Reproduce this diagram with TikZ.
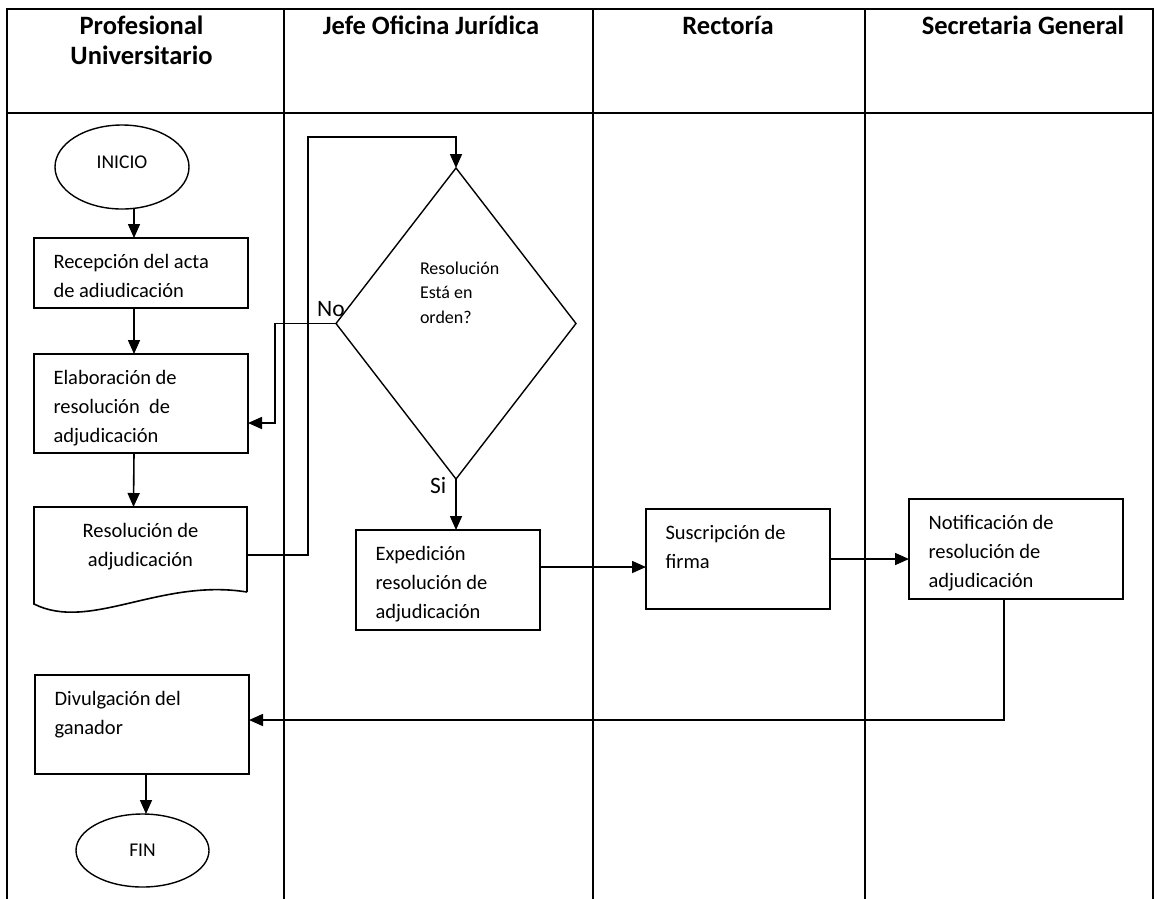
\documentclass[tikz,border=0pt]{standalone}
\usepackage{fontspec}
\setmainfont{Carlito}
\usetikzlibrary{shapes.geometric, arrows.meta, calc}
\tikzset{%
  frame/.style={line width=2.6pt},
  lane/.style={line width=1.6pt},
  head/.style={anchor=base, inner sep=0pt, font=\fontsize{26.5}{30}\selectfont\bfseries},
  stepbox/.style={draw, rectangle, line width=1.6pt, inner sep=0pt, outer sep=0pt,
                  anchor=north west, font=\fontsize{20.5}{29}\selectfont},
  term/.style={draw, ellipse, line width=1.4pt, inner sep=0pt, outer sep=0pt,
               font=\fontsize{19.5}{23}\selectfont},
  decision/.style={draw, diamond, line width=1.4pt, inner sep=0pt, outer sep=0pt,
                   minimum width=240pt, minimum height=311pt, font=\fontsize{18}{24.5}\selectfont},
  answer/.style={anchor=base west, inner sep=0pt, font=\fontsize{23.5}{28}\selectfont},
  flow/.style={line width=1.6pt, -{Triangle[length=14pt,width=12pt]}},
}
% text block of a box: width, height, alignment, lines
\newcommand{\boxbody}[4]{\parbox[t][#2][t]{#1}{#3\rule{0pt}{30pt}#4}}
\newcommand{\leftpad}{\raggedright\leftskip=19.5pt\relax}

\begin{document}
\begin{tikzpicture}[x=1pt, y=-1pt]
    \useasboundingbox (0,0) rectangle (1158,898);

    %lanes
    \draw[frame] (7,900) -- (7,9) -- (1153,9) -- (1153,900);
    \draw[line width=2.2pt] (7,113) -- (1153,113);
    \draw[lane] (284,9) -- (284,900);
    \draw[lane] (593,9) -- (593,900);
    \draw[line width=1.1pt] (865,9) -- (865,900);

    \node[head] (h1) at (141.5,34) {\begin{tabular}[t]{@{}c@{}}Profesional\\Universitario\end{tabular}};
    \node[head] (h2) at (431,34) {Jefe Oficina Jurídica};
    \node[head] (h3) at (728,34) {Rectoría};
    \node[head] (h4) at (1023,34) {Secretaria General};

    %steps
    \node[term, minimum width=134pt, minimum height=84pt] (ini) at (122,167) {\raisebox{9pt}{INICIO}};
    \node[stepbox] (rec) at (34,238) {\boxbody{214pt}{70pt}{\leftpad}{Recepción del acta\\de adiudicación}};
    \node[stepbox] (elab) at (34,354) {\boxbody{214pt}{99pt}{\leftpad}{Elaboración de\\resolución~ de\\adjudicación}};
    \node[stepbox, draw=none] (res) at (34,507) {\boxbody{213pt}{85pt}{\centering}{Resolución de\\adjudicación}};
    \node[decision] (dec) at (456,323.5) {\parbox[c][127pt][t]{90pt}{\raggedright\leftskip=9pt\relax\rule{0pt}{14pt}Resolución\\Está en\\orden?}};
    \node[stepbox] (exp) at (356,530) {\boxbody{184pt}{100pt}{\leftpad}{Expedición\\resolución de\\adjudicación}};
    \node[stepbox] (sus) at (646,509) {\boxbody{184pt}{100pt}{\leftpad}{Suscripción de\\firma}};
    \node[stepbox] (not) at (909,499) {\boxbody{214pt}{100pt}{\leftpad}{Notificación de\\resolución de\\adjudicación}};
    \node[stepbox] (div) at (35,675) {\boxbody{214pt}{99pt}{\leftpad}{Divulgación del\\ganador}};
    \node[term, minimum width=133pt, minimum height=73pt] (fin) at (142.5,850.5) {FIN};

    %document outline
    \draw[line width=1.6pt] (res.south east) -- (res.north east) -- (res.north west) -- ++(0,97)
        .. controls +(56,28) and +(-87,-14) .. (res.south east);

    \node[answer] (no) at (317,316) {No};
    \node[answer] (si) at (430,493) {Si};

    %connectors
    \draw[flow] ([xshift=12pt]ini.south) -- ([xshift=-7pt]rec.north);
    \draw[flow] ([xshift=-7pt]rec.south) -- ([xshift=-7pt]elab.north);
    \draw[flow] ([xshift=-7pt]elab.south) -- ([xshift=-7pt]res.north);
    \coordinate (loop) at (308,137);
    \draw[flow] ([yshift=-5.5pt]res.east) -| (loop) -| (dec.north);
    \draw[flow] (dec.west) -- ++(-61,0) |- ([yshift=-19.5pt]elab.east);
    \draw[flow] (dec.south) -- (dec.south |- exp.north);
    \draw[flow] (exp.east) ++(0,-13) coordinate (e1) -- (e1 -| sus.west);
    \draw[flow] (sus.east) -- (sus.east -| not.west);
    \draw[flow] ([xshift=-12pt]not.south) |- ([yshift=4.5pt]div.east);
    \draw[flow] ([xshift=4pt]div.south) -- ([xshift=3.5pt]fin.north);

\end{tikzpicture}
\end{document}
